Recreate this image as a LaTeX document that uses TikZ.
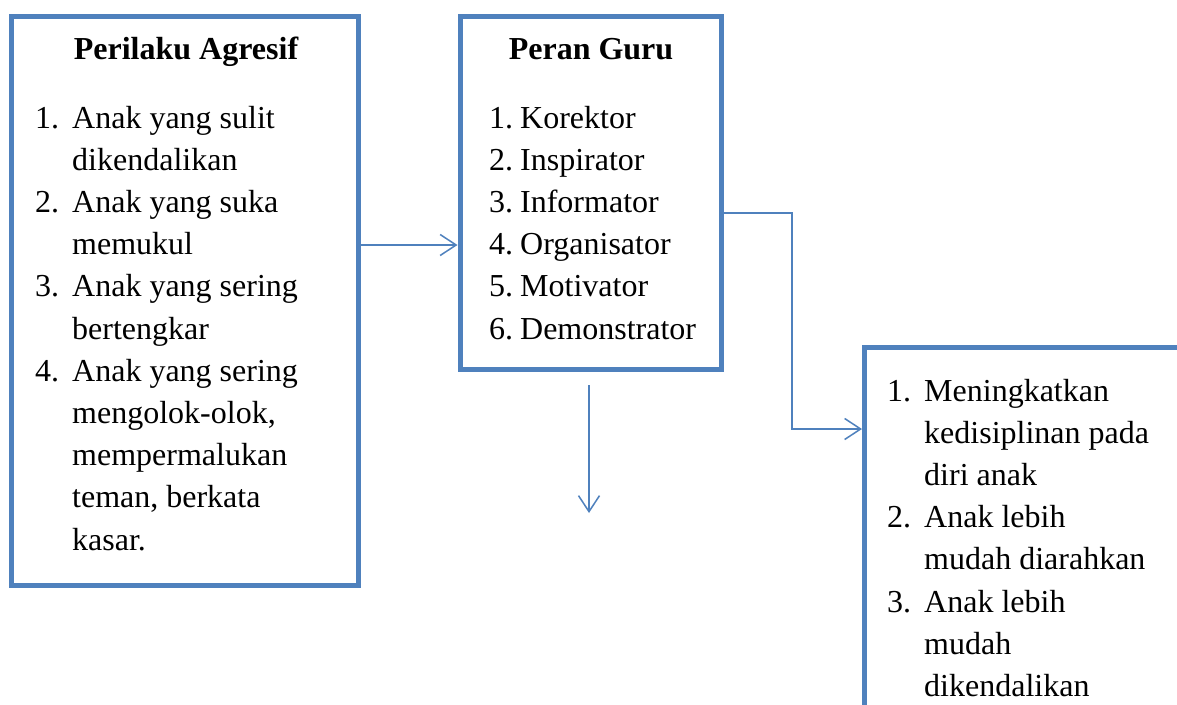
\documentclass[tikz,border=0pt]{standalone}
\usepackage{fontspec}
\setmainfont{Liberation Serif}
\usetikzlibrary{arrows.meta}
\definecolor{boxblue}{RGB}{79,129,189}
\tikzset{
  panel/.style={draw=boxblue, line width=5pt, rectangle, inner sep=0pt, fill=none},
  conn/.style={draw=boxblue, line width=1.5pt, -{Straight Barb[length=16pt,width=21pt]}},
  title/.style={anchor=base, inner sep=0pt, font=\fontsize{32}{42.2}\selectfont\bfseries},
  listtext/.style={anchor=base west, inner sep=0pt, font=\fontsize{32}{42.2}\selectfont}
}
\begin{document}
\begin{tikzpicture}[x=1pt,y=-1pt]
\useasboundingbox (0,0) rectangle (1177,704);
\clip (0,0) rectangle (1177,704);
\fill[white] (0,0) rectangle (1177,704);
% boxes
\node[panel, minimum width=347pt, minimum height=569pt] (agresif) at (185,301) {};
\node[panel, minimum width=261.5pt, minimum height=353.5pt] (guru) at (590.75,192.75) {};
\node[panel, minimum width=325.5pt, minimum height=372.5pt] (hasil) at (1027.25,533.75) {};
% titles
\node[title] (t1) at (186,59) {Perilaku Agresif};
\node[title] (t2) at (591,59) {Peran Guru};
% lists
\node[listtext] (l1) at (35,128) {\fontsize{32}{42.2}\selectfont\begin{tabular}[t]{@{}p{37pt}@{}l@{}}
1. & Anak yang sulit\\
   & dikendalikan\\
2. & Anak yang suka\\
   & memukul\\
3. & Anak yang sering\\
   & bertengkar\\
4. & Anak yang sering\\
   & mengolok-olok,\\
   & mempermalukan\\
   & teman, berkata\\
   & kasar.
\end{tabular}};
\node[listtext] (l2) at (489,128) {\fontsize{32}{42.2}\selectfont\begin{tabular}[t]{@{}p{31pt}@{}l@{}}
1. & Korektor\\
2. & Inspirator\\
3. & Informator\\
4. & Organisator\\
5. & Motivator\\
6. & Demonstrator
\end{tabular}};
\node[listtext] (l3) at (887,401) {\fontsize{32}{42.2}\selectfont\begin{tabular}[t]{@{}p{37pt}@{}l@{}}
1. & Meningkatkan\\
   & kedisiplinan pada\\
   & diri anak\\
2. & Anak lebih\\
   & mudah diarahkan\\
3. & Anak lebih\\
   & mudah\\
   & dikendalikan
\end{tabular}};
% connectors
\coordinate (a1) at (0,245);
\draw[conn] (agresif.east |- a1) -- (guru.west |- a1);
\coordinate (d1) at (589,385);
\coordinate (d2) at (589,513);
\draw[conn] (d1) -- (d2);
\coordinate (b1) at (792,213);
\coordinate (b2) at (792,429);
\draw[conn] (guru.east |- b1) -- (b1) -- (b2) -- (hasil.west |- b2);
\end{tikzpicture}
\end{document}
